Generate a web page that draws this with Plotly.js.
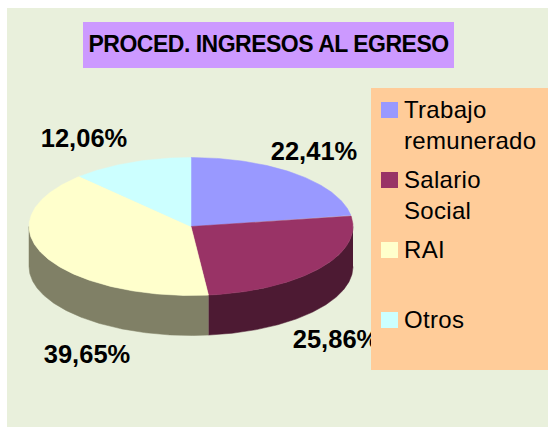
<!DOCTYPE html>
<html>
<head>
<meta charset="utf-8">
<script src="https://cdn.plot.ly/plotly-3.0.1.min.js"></script>
<style>html,body{margin:0;padding:0;background:#fff;overflow:hidden}#chart{width:548px;height:427px}</style>
</head>
<body>
<div id="chart"></div>
<script>
const chartTitle = 'PROCED. INGRESOS AL EGRESO';
const categories = ['Trabajo<br>remunerado', 'Salario<br>Social', 'RAI', 'Otros'];
const values = [22.41, 25.86, 39.65, 12.06];
const topColors = ['#9999FF', '#993366', '#FFFFCC', '#CCFFFF'];
const sideColors = ['#4D4D80', '#4D1A33', '#808066', '#668080'];

// Layout geometry (pixels; the axes map 1:1 to the page)
const cx = 191, cy = 226.5, rx = 162, ry = 69, depth = 40;
const labelAt = [[314, 153.5], [336, 341.5], [87, 356.5], [84, 141]];
const legendRows = [110, 180, 250, 320];

const total = values.reduce((a, b) => a + b, 0);
const px = t => cx + rx * Math.sin(t);
const py = t => cy - ry * Math.cos(t);
function arc(a, b) {
  const n = Math.max(2, Math.ceil(Math.abs(b - a) / 0.01));
  const out = [];
  for (let i = 0; i <= n; i++) out.push(a + (b - a) * i / n);
  return out;
}

const traces = [];
const wedges = [];
let acc = 0;
values.forEach((v, i) => {
  const a = acc / total * 2 * Math.PI;
  acc += v;
  const b = acc / total * 2 * Math.PI;
  wedges.push([a, b]);
});
// visible rim: the lower half of the ellipse
wedges.forEach(([a, b], i) => {
  const s = Math.max(a, Math.PI / 2), e = Math.min(b, 3 * Math.PI / 2);
  if (e <= s) return;
  const ts = arc(s, e);
  const rev = ts.slice().reverse();
  traces.push({
    type: 'scatter', mode: 'lines', fill: 'toself', fillcolor: sideColors[i],
    line: {width: 0.5, color: sideColors[i]}, hoverinfo: 'skip', showlegend: false,
    x: ts.map(px).concat(rev.map(px)),
    y: ts.map(py).concat(rev.map(t => py(t) + depth))
  });
});
// top faces
wedges.forEach(([a, b], i) => {
  const ts = arc(a, b);
  traces.push({
    type: 'scatter', mode: 'lines', fill: 'toself', fillcolor: topColors[i],
    line: {width: 0.5, color: topColors[i]}, name: categories[i], hoverinfo: 'skip', showlegend: false,
    x: [cx].concat(ts.map(px), [cx]),
    y: [cy].concat(ts.map(py), [cy])
  });
});
// data labels (under the legend box, which covers part of one of them)
traces.push({
  type: 'scatter', mode: 'text', hoverinfo: 'skip', showlegend: false,
  x: labelAt.map(p => p[0]), y: labelAt.map(p => p[1]),
  text: values.map(v => v.toFixed(2).replace('.', ',') + '%'),
  textposition: 'middle center',
  textfont: {family: 'Liberation Sans, Arial, sans-serif', size: 25.5, color: '#000', weight: 700},
  cliponaxis: false
});

const rect = (x0, y0, x1, y1, color, layer) => ({
  type: 'rect', xref: 'x', yref: 'y', x0, y0, x1, y1, layer,
  fillcolor: color, line: {width: 0}
});
const shapes = [
  rect(7, 8, 548, 427, '#E9F0DC', 'below'),
  rect(83, 22, 454, 68, '#CC99FF', 'below'),
  rect(371, 88, 548, 370, '#FFCC99', 'above')
];
legendRows.forEach((y, i) => shapes.push(rect(381, y - 8, 398, y + 8, topColors[i], 'above')));

const annotations = [{
  xref: 'x', yref: 'y', x: 268.5, y: 44, text: '<b>' + chartTitle + '</b>', showarrow: false,
  xanchor: 'center', yanchor: 'middle',
  font: {family: 'Liberation Sans, Arial, sans-serif', size: 23, color: '#000'}
}];
categories.forEach((c, i) => annotations.push({
  xref: 'x', yref: 'y', x: 403, y: legendRows[i] - 15, text: c, showarrow: false,
  xanchor: 'left', yanchor: 'top', align: 'left', borderpad: 0,
  font: {family: 'Liberation Sans, Arial, sans-serif', size: 24, color: '#000'}
}));

Plotly.newPlot('chart', traces, {
  width: 548, height: 427,
  margin: {l: 0, r: 0, t: 0, b: 0, pad: 0},
  paper_bgcolor: '#FFFFFF', plot_bgcolor: 'rgba(0,0,0,0)',
  xaxis: {range: [0, 548], visible: false, fixedrange: true},
  yaxis: {range: [427, 0], visible: false, fixedrange: true},
  showlegend: false, shapes, annotations
}, {staticPlot: true, displayModeBar: false}).then(gd => {
  document.querySelectorAll('#chart .annotation-text').forEach((el, i) => {
    el.style.letterSpacing = i === 0 ? '-0.5px' : '0.3px';
  });
});
</script>
</body>
</html>
